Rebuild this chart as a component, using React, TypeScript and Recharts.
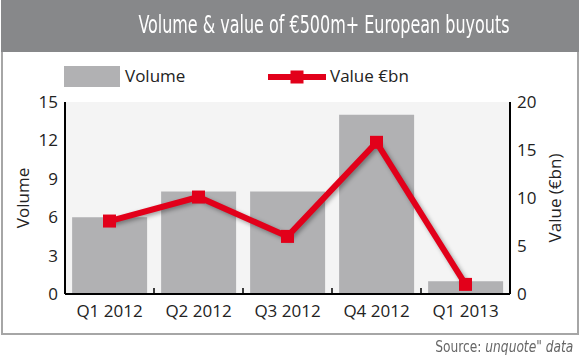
import React from "react";
import {
  ComposedChart,
  Bar,
  Line,
  XAxis,
  YAxis,
  CartesianGrid,
} from "recharts";

const quarters = ["Q1 2012", "Q2 2012", "Q3 2012", "Q4 2012", "Q1 2013"];
const volume = [6, 8, 8, 14, 1];
const valueBn = [7.6, 10.1, 6.0, 15.8, 1.0];
const volumeTicks = [0, 3, 6, 9, 12, 15];
const valueTicks = [0, 5, 10, 15, 20];

const data = quarters.map((q, i) => ({ q, volume: volume[i], value: valueBn[i] }));

const RED = "#e2001a";
const BAR = "#b1b1b3";
const FONT = "'Open Sans', 'Noto Sans', sans-serif";
const NARROW = "'Liberation Sans Narrow', 'DejaVu Sans Condensed', sans-serif";

const PLOT_W = 445;
const BAND = PLOT_W / quarters.length;

function XTick(props: any) {
  const { x, y, payload, index } = props;
  return (
    <g>
      {index > 0 && (
        <line x1={x - BAND / 2} x2={x - BAND / 2} y1={y - 9} y2={y - 14} stroke="#000" strokeWidth={1.5} />
      )}
      <text x={x} y={y} dy="0.9em" textAnchor="middle" fontSize={17} fill="#222" fontFamily={FONT}>
        {payload.value}
      </text>
    </g>
  );
}

function SquareDot(props: any) {
  const { cx, cy } = props;
  if (cx == null || cy == null) return null;
  return <rect x={cx - 6.5} y={cy - 6.5} width={13} height={13} fill={RED} />;
}

export default function App() {
  return (
    <div style={{ position: "absolute", left: 0, top: 0, width: 580, height: 358, background: "#fff" }}>
      <div
        style={{
          position: "absolute",
          left: 1,
          top: 0,
          width: 574,
          height: 333,
          border: "2px solid #a6a6a6",
          borderTop: "none",
        }}
      />
      <div
        style={{
          position: "absolute",
          left: 1,
          top: 0,
          width: 578,
          height: 52,
          background: "#87888a",
        }}
      />
      <div
        style={{
          position: "absolute",
          right: 70,
          top: 11,
          color: "#fff",
          fontFamily: NARROW,
          fontSize: 24,
          lineHeight: "28px",
          whiteSpace: "nowrap",
          transform: "scaleX(0.74)",
          transformOrigin: "right center",
        }}
      >
        Volume &amp; value of €500m+ European buyouts
      </div>

      {/* legend */}
      <div style={{ position: "absolute", left: 64, top: 66, width: 56, height: 21, background: BAR }} />
      <div
        style={{ position: "absolute", left: 125, top: 63, fontFamily: FONT, fontSize: 17, color: "#222", lineHeight: "26px" }}
      >
        Volume
      </div>
      <svg style={{ position: "absolute", left: 266, top: 66 }} width={62} height={22}>
        <line x1={2} x2={60} y1={11} y2={11} stroke={RED} strokeWidth={6} />
        <rect x={24.5} y={4.5} width={13} height={13} fill={RED} />
      </svg>
      <div
        style={{ position: "absolute", left: 330, top: 63, fontFamily: FONT, fontSize: 17, color: "#222", lineHeight: "26px" }}
      >
        Value €bn
      </div>

      <div style={{ position: "absolute", left: 0, top: 0 }}>
        <ComposedChart
          width={580}
          height={358}
          data={data}
          margin={{ top: 102, right: 20, bottom: 24, left: 20 }}
          barCategoryGap="8%"
        >
          <CartesianGrid fill="#f4f4f4" horizontal={false} vertical={false} />
          <XAxis
            dataKey="q"
            height={40}
            axisLine={{ stroke: "#000", strokeWidth: 2 }}
            tickLine={false}
            tickSize={0}
            tickMargin={8}
            tick={<XTick />}
            interval={0}
          />
          <YAxis
            yAxisId="left"
            width={45}
            domain={[0, 15]}
            ticks={volumeTicks}
            axisLine={{ stroke: "#000", strokeWidth: 2 }}
            tickLine={false}
            tickSize={0}
            tickMargin={7}
            tick={{ fontSize: 17, fill: "#222", fontFamily: FONT }}
            label={{ value: "Volume", angle: -90, position: "center", dx: -20, fontSize: 17, fill: "#222", fontFamily: FONT }}
          />
          <YAxis
            yAxisId="right"
            orientation="right"
            width={50}
            domain={[0, 20]}
            ticks={valueTicks}
            axisLine={{ stroke: "#000", strokeWidth: 2 }}
            tickLine={false}
            tickSize={0}
            tickMargin={7}
            tick={{ fontSize: 17, fill: "#222", fontFamily: FONT, textAnchor: "start" }}
            label={{ value: "Value (€bn)", angle: -90, position: "center", dx: 20, fontSize: 17, fill: "#222", fontFamily: FONT }}
          />
          <Bar yAxisId="left" dataKey="volume" fill={BAR} isAnimationActive={false} />
          <Line
            yAxisId="right"
            dataKey="value"
            stroke={RED}
            strokeWidth={6}
            dot={<SquareDot />}
            activeDot={false}
            isAnimationActive={false}
            style={{ filter: "drop-shadow(2px 2px 2px rgba(0,0,0,0.35))" }}
          />
        </ComposedChart>
      </div>

      <div
        style={{
          position: "absolute",
          right: 7,
          top: 337,
          fontFamily: NARROW,
          fontSize: 16,
          color: "#666",
          whiteSpace: "nowrap",
          lineHeight: "20px",
          transform: "scaleX(0.85)",
          transformOrigin: "right center",
        }}
      >
        Source: <i>unquote" data</i>
      </div>
    </div>
  );
}
